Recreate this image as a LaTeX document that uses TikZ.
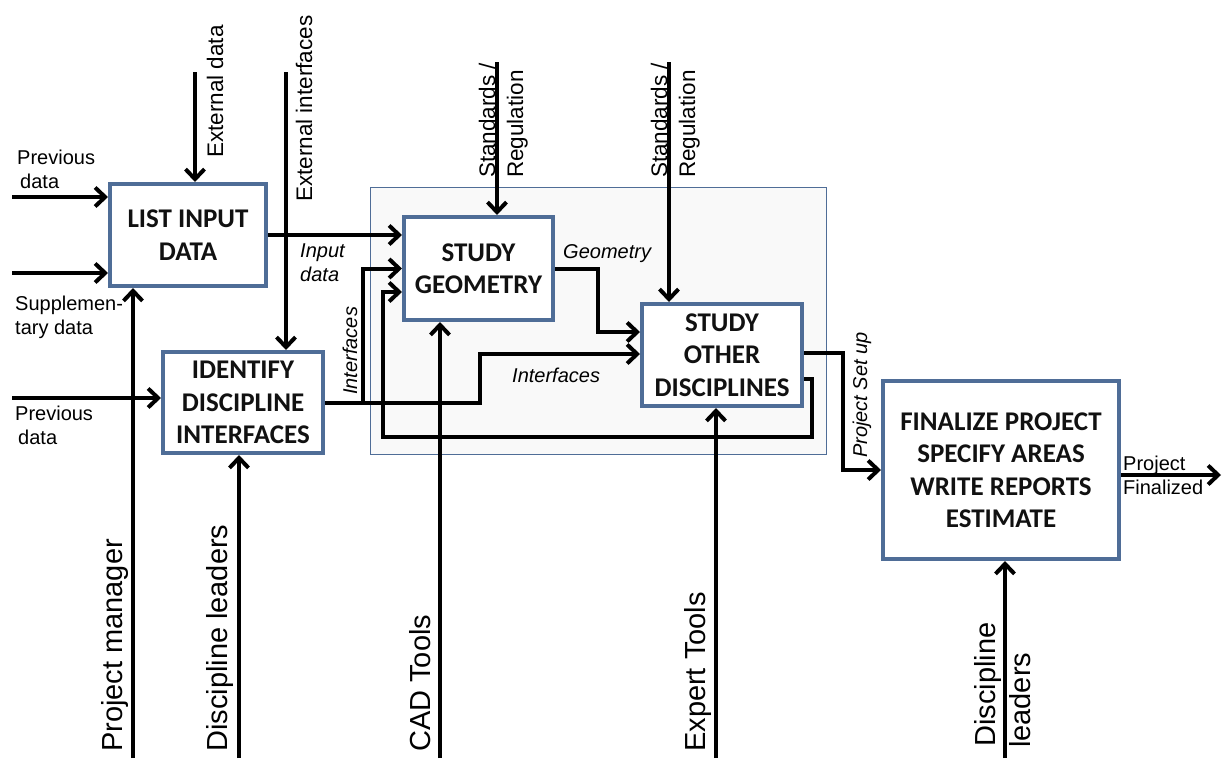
\documentclass[tikz,border=0pt]{standalone}
\usepackage{fontspec}
\setmainfont{Liberation Sans}
\newfontfamily\boxfont{Carlito}
\usetikzlibrary{arrows.meta}

\definecolor{boxblue}{HTML}{4F6D97}
\definecolor{panel}{HTML}{F9F9F9}
\definecolor{ink}{HTML}{111111}

\begin{document}
\begin{tikzpicture}[x=1pt,y=-1pt,
  box/.style={draw=boxblue, line width=4pt, fill=white, align=center, inner sep=0pt,
    font=\boxfont\bfseries\fontsize{27}{32.5}\selectfont, text=ink},
  flow/.style={line width=4pt, -{Straight Barb[length=10pt,width=19pt]}},
  wire/.style={line width=4pt},
  lbl/.style={font=\fontsize{20}{24}\selectfont, inner sep=0pt, align=left},
  ilbl/.style={font=\itshape\fontsize{20}{24}\selectfont, inner sep=0pt, align=left},
  vlbl/.style={rotate=90, anchor=base west, inner sep=0pt, font=\fontsize{29}{30}\selectfont},
  tlbl/.style={rotate=90, anchor=base west, inner sep=0pt, font=\fontsize{22.5}{26}\selectfont},
]
\useasboundingbox (0,0) rectangle (1223,758);

% grouping panel around the two study activities
\node[draw=boxblue, line width=1.5pt, fill=panel, minimum width=456pt, minimum height=267pt,
  inner sep=0pt] (panel) at (598.5,321) {};

% activity boxes
\node[box, minimum width=156pt, minimum height=102pt] (list)  at (188,235)   {LIST INPUT\\DATA};
\node[box, minimum width=149pt, minimum height=103pt] (geo)   at (478.5,268.5) {STUDY\\GEOMETRY};
\node[box, minimum width=160pt, minimum height=102pt] (other) at (722,355)   {STUDY\\OTHER\\DISCIPLINES};
\node[box, minimum width=160pt, minimum height=101pt] (ident) at (243,402.5) {IDENTIFY\\DISCIPLINE\\INTERFACES};
\node[box, minimum width=236pt, minimum height=178pt] (fin)   at (1001,470)  {FINALIZE PROJECT\\SPECIFY AREAS\\WRITE REPORTS\\ESTIMATE};

% free ends and bends of the connectors
\coordinate (prevA) at (12,197);
\coordinate (suppA) at (12,273);
\coordinate (prevB) at (12,398);
\coordinate (extD)  at (195,72);
\coordinate (extI)  at (286,72);
\coordinate (stdA)  at (497,62);
\coordinate (stdB)  at (669,62);
\coordinate (pm)    at (133,758);
\coordinate (dl)    at (239,758);
\coordinate (cad)   at (440,758);
\coordinate (exp)   at (716,758);
\coordinate (dlB)   at (1005,758);
\coordinate (done)  at (1221,475);
\coordinate (ia)    at (480,402.5);
\coordinate (ib)    at (363,402.5);
\coordinate (gb)    at (598,268.5);
\coordinate (fa)    at (812,379);
\coordinate (fb)    at (812,437);
\coordinate (fc)    at (383,437);
\coordinate (sa)    at (843,353);

% inputs
\draw[flow] (prevA) -- (list.west |- prevA);
\draw[flow] (suppA) -- (list.west |- suppA);
\draw[flow] (prevB) -- (ident.west |- prevB);

% controls from above
\draw[flow] (extD) -- (extD |- list.north);
\draw[flow] (extI) -- (extI |- ident.north);
\draw[flow] (stdA) -- (stdA |- geo.north);
\draw[flow] (stdB) -- (stdB |- other.north);

% mechanisms from below
\draw[flow] (pm)  -- (pm |- list.south);
\draw[flow] (dl)  -- (dl |- ident.south);
\draw[flow] (cad) -- (cad |- geo.south);
\draw[flow] (exp) -- (exp |- other.south);
\draw[flow] (dlB) -- (dlB |- fin.south);

% flows between activities
\draw[flow] (list.east) -- (geo.west |- list.east);
\draw[flow] (ident.east) -- (ia) |- (other.west |- 0,354);
\draw[flow] (ib) |- (geo.west);
\draw[flow] (geo.east) -- (gb) |- (other.west |- 0,332);
\draw[flow] (other.east |- fa) -- (fa) -- (fb) -- (fc) |- (geo.west |- 0,292);
\draw[flow] (other.east |- sa) -- (sa) |- (fin.west);
\draw[flow] (fin.east |- done) -- (done);

% labels
\node[lbl, anchor=north west] (lPrevA) at (17,150) {Previous\\\hspace*{3pt}data};
\node[lbl, anchor=north west] (lSupp)  at (15,296) {Supplemen-\\tary data};
\node[lbl, anchor=north west] (lPrevB) at (15,406) {Previous\\\hspace*{3pt}data};
\node[ilbl, anchor=north west] (lInput) at (300,244) {Input\\data};
\node[ilbl, anchor=west] (lGeo) at (563,254) {Geometry};
\node[ilbl, anchor=west] (lIfH) at (512,375) {Interfaces};
\node[ilbl, rotate=90, anchor=base west] (lIfV) at (357,395) {Interfaces};
\node[ilbl, rotate=90, anchor=base west] (lSet) at (867,458) {Project Set up};
\node[lbl, anchor=north west] (lDone) at (1123,456) {Project\\Finalized};

\node[tlbl] (lExtD) at (223,158) {External data};
\node[tlbl] (lExtI) at (312,202) {External interfaces};
\node[tlbl] (lStdA1) at (495,178) {Standards /};
\node[tlbl] (lStdA2) at (523,178) {Regulation};
\node[tlbl] (lStdB1) at (667,178) {Standards /};
\node[tlbl] (lStdB2) at (695,178) {Regulation};

\node[vlbl] (lPm)  at (122,752) {Project manager};
\node[vlbl] (lDl)  at (227,752) {Discipline leaders};
\node[vlbl] (lCad) at (430,752) {CAD Tools};
\node[vlbl] (lExp) at (705,752) {Expert Tools};
\node[vlbl] (lDl1) at (995,747) {Discipline};
\node[vlbl] (lDl2) at (1030,748) {leaders};
\end{tikzpicture}
\end{document}
